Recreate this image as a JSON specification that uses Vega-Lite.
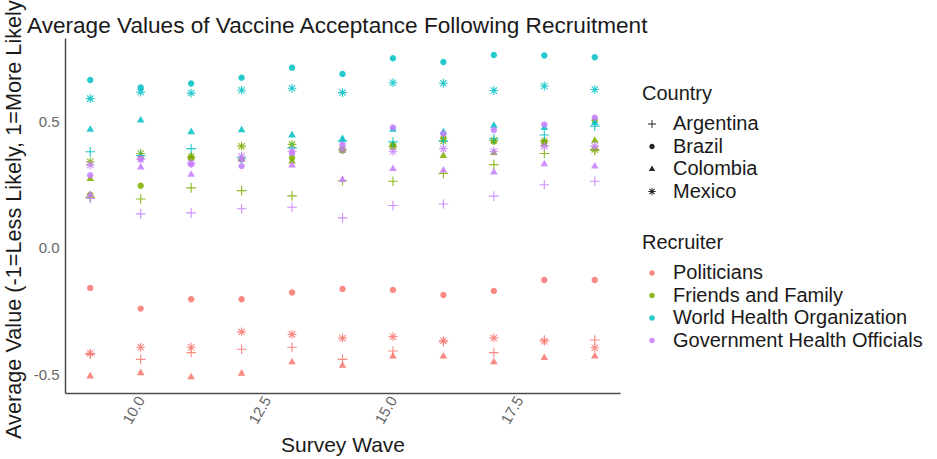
{
  "$schema": "https://vega.github.io/schema/vega-lite/v6.json",
  "autosize": "none",
  "width": 555,
  "height": 355,
  "padding": {"left": 65, "top": 38, "right": 317, "bottom": 66},
  "background": "white",
  "config": {"font": "Liberation Sans", "view": {"stroke": null}},
  "title": {"text": "Average Values of Vaccine Acceptance Following Recruitment", "anchor": "start", "frame": "group", "dx": -38, "dy": 49, "fontSize": 22.6, "fontWeight": "normal", "color": "#1a1a1a", "offset": 4},
  "data": {"values": [
    {"wave":9,"country":"Argentina","recruiter":"Politicians","value":-0.422},
    {"wave":10,"country":"Argentina","recruiter":"Politicians","value":-0.442},
    {"wave":11,"country":"Argentina","recruiter":"Politicians","value":-0.415},
    {"wave":12,"country":"Argentina","recruiter":"Politicians","value":-0.402},
    {"wave":13,"country":"Argentina","recruiter":"Politicians","value":-0.394},
    {"wave":14,"country":"Argentina","recruiter":"Politicians","value":-0.442},
    {"wave":15,"country":"Argentina","recruiter":"Politicians","value":-0.409},
    {"wave":16,"country":"Argentina","recruiter":"Politicians","value":-0.372},
    {"wave":17,"country":"Argentina","recruiter":"Politicians","value":-0.415},
    {"wave":18,"country":"Argentina","recruiter":"Politicians","value":-0.365},
    {"wave":19,"country":"Argentina","recruiter":"Politicians","value":-0.365},
    {"wave":9,"country":"Brazil","recruiter":"Politicians","value":-0.159},
    {"wave":10,"country":"Brazil","recruiter":"Politicians","value":-0.241},
    {"wave":11,"country":"Brazil","recruiter":"Politicians","value":-0.204},
    {"wave":12,"country":"Brazil","recruiter":"Politicians","value":-0.204},
    {"wave":13,"country":"Brazil","recruiter":"Politicians","value":-0.177},
    {"wave":14,"country":"Brazil","recruiter":"Politicians","value":-0.163},
    {"wave":15,"country":"Brazil","recruiter":"Politicians","value":-0.167},
    {"wave":16,"country":"Brazil","recruiter":"Politicians","value":-0.187},
    {"wave":17,"country":"Brazil","recruiter":"Politicians","value":-0.171},
    {"wave":18,"country":"Brazil","recruiter":"Politicians","value":-0.128},
    {"wave":19,"country":"Brazil","recruiter":"Politicians","value":-0.128},
    {"wave":9,"country":"Colombia","recruiter":"Politicians","value":-0.508},
    {"wave":10,"country":"Colombia","recruiter":"Politicians","value":-0.495},
    {"wave":11,"country":"Colombia","recruiter":"Politicians","value":-0.511},
    {"wave":12,"country":"Colombia","recruiter":"Politicians","value":-0.497},
    {"wave":13,"country":"Colombia","recruiter":"Politicians","value":-0.452},
    {"wave":14,"country":"Colombia","recruiter":"Politicians","value":-0.466},
    {"wave":15,"country":"Colombia","recruiter":"Politicians","value":-0.429},
    {"wave":16,"country":"Colombia","recruiter":"Politicians","value":-0.429},
    {"wave":17,"country":"Colombia","recruiter":"Politicians","value":-0.452},
    {"wave":18,"country":"Colombia","recruiter":"Politicians","value":-0.435},
    {"wave":19,"country":"Colombia","recruiter":"Politicians","value":-0.429},
    {"wave":9,"country":"Mexico","recruiter":"Politicians","value":-0.418},
    {"wave":10,"country":"Mexico","recruiter":"Politicians","value":-0.394},
    {"wave":11,"country":"Mexico","recruiter":"Politicians","value":-0.394},
    {"wave":12,"country":"Mexico","recruiter":"Politicians","value":-0.333},
    {"wave":13,"country":"Mexico","recruiter":"Politicians","value":-0.343},
    {"wave":14,"country":"Mexico","recruiter":"Politicians","value":-0.358},
    {"wave":15,"country":"Mexico","recruiter":"Politicians","value":-0.352},
    {"wave":16,"country":"Mexico","recruiter":"Politicians","value":-0.368},
    {"wave":17,"country":"Mexico","recruiter":"Politicians","value":-0.357},
    {"wave":18,"country":"Mexico","recruiter":"Politicians","value":-0.370},
    {"wave":19,"country":"Mexico","recruiter":"Politicians","value":-0.396},
    {"wave":9,"country":"Argentina","recruiter":"Friends and Family","value":0.200},
    {"wave":10,"country":"Argentina","recruiter":"Friends and Family","value":0.193},
    {"wave":11,"country":"Argentina","recruiter":"Friends and Family","value":0.237},
    {"wave":12,"country":"Argentina","recruiter":"Friends and Family","value":0.226},
    {"wave":13,"country":"Argentina","recruiter":"Friends and Family","value":0.205},
    {"wave":14,"country":"Argentina","recruiter":"Friends and Family","value":0.265},
    {"wave":15,"country":"Argentina","recruiter":"Friends and Family","value":0.263},
    {"wave":16,"country":"Argentina","recruiter":"Friends and Family","value":0.294},
    {"wave":17,"country":"Argentina","recruiter":"Friends and Family","value":0.329},
    {"wave":18,"country":"Argentina","recruiter":"Friends and Family","value":0.373},
    {"wave":19,"country":"Argentina","recruiter":"Friends and Family","value":0.385},
    {"wave":9,"country":"Brazil","recruiter":"Friends and Family","value":0.210},
    {"wave":10,"country":"Brazil","recruiter":"Friends and Family","value":0.245},
    {"wave":11,"country":"Brazil","recruiter":"Friends and Family","value":0.355},
    {"wave":12,"country":"Brazil","recruiter":"Friends and Family","value":0.350},
    {"wave":13,"country":"Brazil","recruiter":"Friends and Family","value":0.356},
    {"wave":14,"country":"Brazil","recruiter":"Friends and Family","value":0.385},
    {"wave":15,"country":"Brazil","recruiter":"Friends and Family","value":0.405},
    {"wave":16,"country":"Brazil","recruiter":"Friends and Family","value":0.435},
    {"wave":17,"country":"Brazil","recruiter":"Friends and Family","value":0.420},
    {"wave":18,"country":"Brazil","recruiter":"Friends and Family","value":0.420},
    {"wave":19,"country":"Brazil","recruiter":"Friends and Family","value":0.504},
    {"wave":9,"country":"Colombia","recruiter":"Friends and Family","value":0.274},
    {"wave":10,"country":"Colombia","recruiter":"Friends and Family","value":0.360},
    {"wave":11,"country":"Colombia","recruiter":"Friends and Family","value":0.362},
    {"wave":12,"country":"Colombia","recruiter":"Friends and Family","value":0.352},
    {"wave":13,"country":"Colombia","recruiter":"Friends and Family","value":0.343},
    {"wave":14,"country":"Colombia","recruiter":"Friends and Family","value":0.390},
    {"wave":15,"country":"Colombia","recruiter":"Friends and Family","value":0.410},
    {"wave":16,"country":"Colombia","recruiter":"Friends and Family","value":0.365},
    {"wave":17,"country":"Colombia","recruiter":"Friends and Family","value":0.376},
    {"wave":18,"country":"Colombia","recruiter":"Friends and Family","value":0.410},
    {"wave":19,"country":"Colombia","recruiter":"Friends and Family","value":0.425},
    {"wave":9,"country":"Mexico","recruiter":"Friends and Family","value":0.340},
    {"wave":10,"country":"Mexico","recruiter":"Friends and Family","value":0.373},
    {"wave":11,"country":"Mexico","recruiter":"Friends and Family","value":0.360},
    {"wave":12,"country":"Mexico","recruiter":"Friends and Family","value":0.402},
    {"wave":13,"country":"Mexico","recruiter":"Friends and Family","value":0.409},
    {"wave":14,"country":"Mexico","recruiter":"Friends and Family","value":0.389},
    {"wave":15,"country":"Mexico","recruiter":"Friends and Family","value":0.400},
    {"wave":16,"country":"Mexico","recruiter":"Friends and Family","value":0.422},
    {"wave":17,"country":"Mexico","recruiter":"Friends and Family","value":0.425},
    {"wave":18,"country":"Mexico","recruiter":"Friends and Family","value":0.422},
    {"wave":19,"country":"Mexico","recruiter":"Friends and Family","value":0.389},
    {"wave":9,"country":"Argentina","recruiter":"World Health Organization","value":0.380},
    {"wave":10,"country":"Argentina","recruiter":"World Health Organization","value":0.365},
    {"wave":11,"country":"Argentina","recruiter":"World Health Organization","value":0.392},
    {"wave":12,"country":"Argentina","recruiter":"World Health Organization","value":0.355},
    {"wave":13,"country":"Argentina","recruiter":"World Health Organization","value":0.395},
    {"wave":14,"country":"Argentina","recruiter":"World Health Organization","value":0.422},
    {"wave":15,"country":"Argentina","recruiter":"World Health Organization","value":0.419},
    {"wave":16,"country":"Argentina","recruiter":"World Health Organization","value":0.422},
    {"wave":17,"country":"Argentina","recruiter":"World Health Organization","value":0.431},
    {"wave":18,"country":"Argentina","recruiter":"World Health Organization","value":0.446},
    {"wave":19,"country":"Argentina","recruiter":"World Health Organization","value":0.481},
    {"wave":9,"country":"Brazil","recruiter":"World Health Organization","value":0.664},
    {"wave":10,"country":"Brazil","recruiter":"World Health Organization","value":0.634},
    {"wave":11,"country":"Brazil","recruiter":"World Health Organization","value":0.650},
    {"wave":12,"country":"Brazil","recruiter":"World Health Organization","value":0.673},
    {"wave":13,"country":"Brazil","recruiter":"World Health Organization","value":0.712},
    {"wave":14,"country":"Brazil","recruiter":"World Health Organization","value":0.688},
    {"wave":15,"country":"Brazil","recruiter":"World Health Organization","value":0.750},
    {"wave":16,"country":"Brazil","recruiter":"World Health Organization","value":0.735},
    {"wave":17,"country":"Brazil","recruiter":"World Health Organization","value":0.763},
    {"wave":18,"country":"Brazil","recruiter":"World Health Organization","value":0.761},
    {"wave":19,"country":"Brazil","recruiter":"World Health Organization","value":0.754},
    {"wave":9,"country":"Colombia","recruiter":"World Health Organization","value":0.468},
    {"wave":10,"country":"Colombia","recruiter":"World Health Organization","value":0.505},
    {"wave":11,"country":"Colombia","recruiter":"World Health Organization","value":0.459},
    {"wave":12,"country":"Colombia","recruiter":"World Health Organization","value":0.466},
    {"wave":13,"country":"Colombia","recruiter":"World Health Organization","value":0.446},
    {"wave":14,"country":"Colombia","recruiter":"World Health Organization","value":0.431},
    {"wave":15,"country":"Colombia","recruiter":"World Health Organization","value":0.468},
    {"wave":16,"country":"Colombia","recruiter":"World Health Organization","value":0.458},
    {"wave":17,"country":"Colombia","recruiter":"World Health Organization","value":0.484},
    {"wave":18,"country":"Colombia","recruiter":"World Health Organization","value":0.475},
    {"wave":19,"country":"Colombia","recruiter":"World Health Organization","value":0.495},
    {"wave":9,"country":"Mexico","recruiter":"World Health Organization","value":0.590},
    {"wave":10,"country":"Mexico","recruiter":"World Health Organization","value":0.616},
    {"wave":11,"country":"Mexico","recruiter":"World Health Organization","value":0.612},
    {"wave":12,"country":"Mexico","recruiter":"World Health Organization","value":0.623},
    {"wave":13,"country":"Mexico","recruiter":"World Health Organization","value":0.631},
    {"wave":14,"country":"Mexico","recruiter":"World Health Organization","value":0.614},
    {"wave":15,"country":"Mexico","recruiter":"World Health Organization","value":0.653},
    {"wave":16,"country":"Mexico","recruiter":"World Health Organization","value":0.651},
    {"wave":17,"country":"Mexico","recruiter":"World Health Organization","value":0.622},
    {"wave":18,"country":"Mexico","recruiter":"World Health Organization","value":0.640},
    {"wave":19,"country":"Mexico","recruiter":"World Health Organization","value":0.626},
    {"wave":9,"country":"Argentina","recruiter":"Government Health Officials","value":0.195},
    {"wave":10,"country":"Argentina","recruiter":"Government Health Officials","value":0.134},
    {"wave":11,"country":"Argentina","recruiter":"Government Health Officials","value":0.138},
    {"wave":12,"country":"Argentina","recruiter":"Government Health Officials","value":0.154},
    {"wave":13,"country":"Argentina","recruiter":"Government Health Officials","value":0.160},
    {"wave":14,"country":"Argentina","recruiter":"Government Health Officials","value":0.118},
    {"wave":15,"country":"Argentina","recruiter":"Government Health Officials","value":0.167},
    {"wave":16,"country":"Argentina","recruiter":"Government Health Officials","value":0.173},
    {"wave":17,"country":"Argentina","recruiter":"Government Health Officials","value":0.204},
    {"wave":18,"country":"Argentina","recruiter":"Government Health Officials","value":0.249},
    {"wave":19,"country":"Argentina","recruiter":"Government Health Officials","value":0.263},
    {"wave":9,"country":"Brazil","recruiter":"Government Health Officials","value":0.287},
    {"wave":10,"country":"Brazil","recruiter":"Government Health Officials","value":0.351},
    {"wave":11,"country":"Brazil","recruiter":"Government Health Officials","value":0.330},
    {"wave":12,"country":"Brazil","recruiter":"Government Health Officials","value":0.323},
    {"wave":13,"country":"Brazil","recruiter":"Government Health Officials","value":0.376},
    {"wave":14,"country":"Brazil","recruiter":"Government Health Officials","value":0.409},
    {"wave":15,"country":"Brazil","recruiter":"Government Health Officials","value":0.476},
    {"wave":16,"country":"Brazil","recruiter":"Government Health Officials","value":0.451},
    {"wave":17,"country":"Brazil","recruiter":"Government Health Officials","value":0.466},
    {"wave":18,"country":"Brazil","recruiter":"Government Health Officials","value":0.488},
    {"wave":19,"country":"Brazil","recruiter":"Government Health Officials","value":0.515},
    {"wave":9,"country":"Colombia","recruiter":"Government Health Officials","value":0.210},
    {"wave":10,"country":"Colombia","recruiter":"Government Health Officials","value":0.319},
    {"wave":11,"country":"Colombia","recruiter":"Government Health Officials","value":0.290},
    {"wave":12,"country":"Colombia","recruiter":"Government Health Officials","value":0.350},
    {"wave":13,"country":"Colombia","recruiter":"Government Health Officials","value":0.327},
    {"wave":14,"country":"Colombia","recruiter":"Government Health Officials","value":0.270},
    {"wave":15,"country":"Colombia","recruiter":"Government Health Officials","value":0.313},
    {"wave":16,"country":"Colombia","recruiter":"Government Health Officials","value":0.307},
    {"wave":17,"country":"Colombia","recruiter":"Government Health Officials","value":0.299},
    {"wave":18,"country":"Colombia","recruiter":"Government Health Officials","value":0.332},
    {"wave":19,"country":"Colombia","recruiter":"Government Health Officials","value":0.323},
    {"wave":9,"country":"Mexico","recruiter":"Government Health Officials","value":0.327},
    {"wave":10,"country":"Mexico","recruiter":"Government Health Officials","value":0.350},
    {"wave":11,"country":"Mexico","recruiter":"Government Health Officials","value":0.335},
    {"wave":12,"country":"Mexico","recruiter":"Government Health Officials","value":0.362},
    {"wave":13,"country":"Mexico","recruiter":"Government Health Officials","value":0.382},
    {"wave":14,"country":"Mexico","recruiter":"Government Health Officials","value":0.389},
    {"wave":15,"country":"Mexico","recruiter":"Government Health Officials","value":0.382},
    {"wave":16,"country":"Mexico","recruiter":"Government Health Officials","value":0.392},
    {"wave":17,"country":"Mexico","recruiter":"Government Health Officials","value":0.382},
    {"wave":18,"country":"Mexico","recruiter":"Government Health Officials","value":0.402},
    {"wave":19,"country":"Mexico","recruiter":"Government Health Officials","value":0.402}
  ]},
  "mark": {"type": "point", "filled": true, "size": 64, "opacity": 0.85},
  "encoding": {
    "x": {"field": "wave", "type": "quantitative",
      "scale": {"domain": [8.5, 19.5], "nice": false, "zero": false},
      "axis": {"values": [10, 12.5, 15, 17.5], "format": ".1f", "labelAngle": -60, "labelAlign": "right", "labelBaseline": "middle", "labelFontSize": 15, "labelColor": "#666666", "ticks": false, "grid": false, "domainColor": "#4d4d4d", "domainWidth": 1.5, "labelPadding": 4, "title": "Survey Wave", "titleFontSize": 21, "titleFontWeight": "normal", "titleColor": "#1a1a1a", "titlePadding": 8}},
    "y": {"field": "value", "type": "quantitative",
      "scale": {"domain": [-0.575, 0.83], "nice": false, "zero": false},
      "axis": {"values": [-0.5, 0, 0.5], "labelExpr": "datum.value < 0 ? '-' + format(-datum.value, '.1f') : format(datum.value, '.1f')", "labelFontSize": 15, "labelColor": "#666666", "ticks": false, "grid": false, "domainColor": "#4d4d4d", "domainWidth": 1.5, "labelPadding": 6, "title": "Average Value (-1=Less Likely, 1=More Likely)", "titleFontSize": 21.7, "titleFontWeight": "normal", "titleColor": "#1a1a1a", "titlePadding": 8}},
    "color": {"field": "recruiter", "type": "nominal",
      "scale": {"domain": ["Politicians", "Friends and Family", "World Health Organization", "Government Health Officials"], "range": ["#F8766D", "#7CAE00", "#00BFC4", "#C77CFF"]},
      "legend": {"title": "Recruiter", "orient": "none", "legendX": 577, "legendY": 195, "padding": 0, "titleFontSize": 20, "titleFontWeight": "normal", "titleColor": "#1a1a1a", "labelFontSize": 20, "labelColor": "#1a1a1a", "labelLimit": 400, "symbolType": "circle", "symbolSize": 30, "symbolOffset": 0, "labelOffset": 11, "rowPadding": 2.5, "titlePadding": 10}},
    "shape": {"field": "country", "type": "nominal",
      "scale": {"domain": ["Argentina", "Brazil", "Colombia", "Mexico"], "range": [
        "M-1.2,-0.14H-0.14V-1.2H0.14V-0.14H1.2V0.14H0.14V1.2H-0.14V0.14H-1.2Z",
        "M0.8,0A0.8,0.8,0,1,1,-0.8,0A0.8,0.8,0,1,1,0.8,0Z",
        "M0,-1.05L0.95,0.6L-0.95,0.6Z",
        "M-1.1,-0.14H-0.14V-1.1H0.14V-0.14H1.1V0.14H0.14V1.1H-0.14V0.14H-1.1ZM-0.879,-0.681L-0.681,-0.879L0.879,0.681L0.681,0.879ZM-0.681,0.879L-0.879,0.681L0.681,-0.879L0.879,-0.681Z"]},
      "legend": {"title": "Country", "orient": "none", "legendX": 577, "legendY": 46, "padding": 0, "titleFontSize": 20, "titleFontWeight": "normal", "titleColor": "#1a1a1a", "labelFontSize": 20, "labelColor": "#1a1a1a", "labelLimit": 400, "symbolSize": 45, "symbolOffset": 0, "labelOffset": 11, "rowPadding": 2.5, "titlePadding": 10, "symbolFillColor": "black", "symbolStrokeColor": "black", "symbolStrokeWidth": 0}}
  }
}
